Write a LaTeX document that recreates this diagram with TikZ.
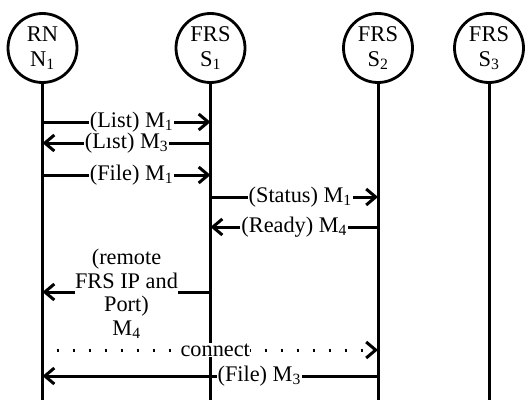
\documentclass[tikz,border=0pt]{standalone}
\usepackage{fontspec}
\setmainfont{Liberation Serif}
\usetikzlibrary{arrows.meta}
\begin{document}
\begin{tikzpicture}[x=1pt,y=-1pt,
  actor/.style={circle,draw,line width=2.8pt,minimum size=69pt,inner sep=0pt,align=center,font=\fontsize{22.5}{25}\selectfont},
  life/.style={line width=3pt},
  msg/.style={line width=3pt,-{Straight Barb[length=9.5pt,width=16pt,line width=3pt]}},
  dotmsg/.style={msg,dash pattern=on 2.4pt off 13.6pt,shorten <=14pt},
  lbl/.style={fill=white,inner sep=1pt,font=\fontsize{22.3}{23.5}\selectfont},
]
\useasboundingbox (0,0) rectangle (529,404);
\node[actor] (N) at (42.5,48) {RN\\N\textsubscript{1}};
\node[actor] (S1) at (210.5,48) {FRS\\S\textsubscript{1}};
\node[actor] (S2) at (378,48) {FRS\\S\textsubscript{2}};
\node[actor] (S3) at (489,48) {FRS\\S\textsubscript{3}};
\coordinate (Ne) at (42.5,400);
\coordinate (S1e) at (210.5,400);
\coordinate (S2e) at (378,400);
\coordinate (S3e) at (489,400);
\draw[life] (N) -- (Ne);
\draw[life] (S1) -- (S1e);
\draw[life] (S2) -- (S2e);
\draw[life] (S3) -- (S3e);
% message coordinates
\coordinate (a1) at (42.5,122); \coordinate (b1) at (210.5,122);
\coordinate (a2) at (42.5,143); \coordinate (b2) at (210.5,143);
\coordinate (a3) at (42.5,175); \coordinate (b3) at (210.5,175);
\coordinate (b4) at (210.5,197); \coordinate (c4) at (378,197);
\coordinate (b5) at (210.5,227); \coordinate (c5) at (378,227);
\coordinate (a6) at (42.5,292); \coordinate (b6) at (210.5,292);
\coordinate (a7) at (42.5,350); \coordinate (c7) at (378,350);
\coordinate (a8) at (42.5,376); \coordinate (c8) at (378,376);
\draw[msg] (a1) -- node[lbl,xshift=5pt] {(List) M\textsubscript{1}} (b1);
\draw[msg] (b2) -- node[lbl] {(Lıst) M\textsubscript{3}} (a2);
\draw[msg] (a3) -- node[lbl,xshift=5pt] {(File) M\textsubscript{1}} (b3);
\draw[msg] (b4) -- node[lbl,xshift=6pt] {(Status) M\textsubscript{1}} (c4);
\draw[msg] (c5) -- node[lbl] {(Ready) M\textsubscript{4}} (b5);
\draw[msg] (b6) -- node[lbl,align=center,inner sep=0pt,yshift=-2pt] {(remote\\FRS IP and\\Port)\\M\textsubscript{4}} (a6);
\draw[dotmsg] (a7) -- node[lbl,xshift=5pt,inner sep=0.5pt] {connect} (c7);
\draw[msg] (c8) -- node[lbl,pos=0.354] {(File) M\textsubscript{3}} (a8);
\end{tikzpicture}
\end{document}
